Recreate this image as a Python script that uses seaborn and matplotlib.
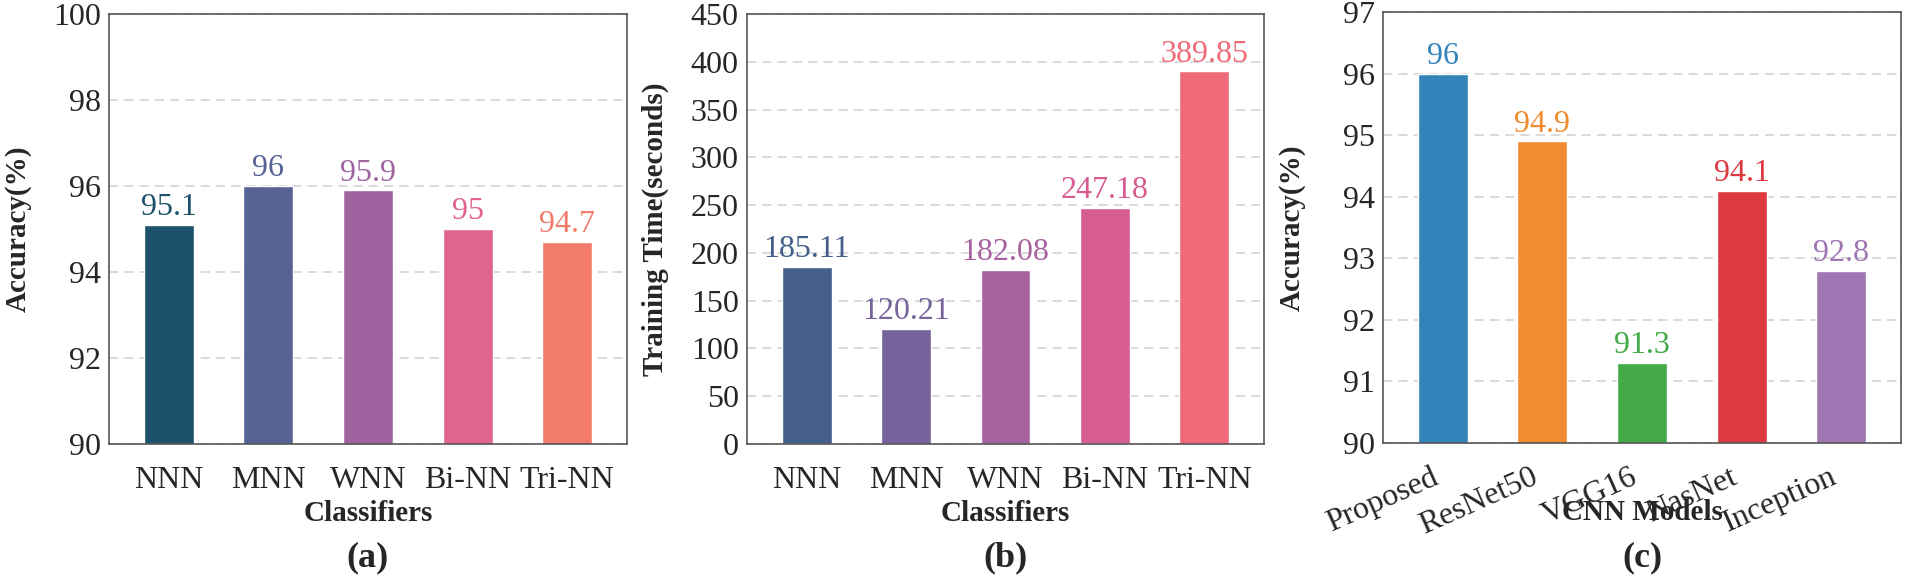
import pandas as pd
import matplotlib
matplotlib.use('Agg')
import matplotlib.pyplot as plt
import seaborn as sns

# data
classifiers = ['NNN', 'MNN', 'WNN', 'Bi-NN', 'Tri-NN']
acc_a = [95.1, 96, 95.9, 95, 94.7]
time_b = [185.11, 120.21, 182.08, 247.18, 389.85]
cnn_models = ['Proposed', 'ResNet50', 'VGG16', 'NasNet', 'Inception']
acc_c = [96, 94.9, 91.3, 94.1, 92.8]

colors_a = ['#1e526c', '#576395', '#9f64a0', '#e0648c', '#f27b6a']
colors_b = ['#435f8a', '#76639b', '#a862a0', '#d65c91', '#ee6a78']
colors_c = ['#3483bb', '#f38b30', '#44aa48', '#dc3a40', '#9d76b2']

sns.set_style('white')
plt.rcParams['font.family'] = ['Liberation Serif', 'DejaVu Serif']

fig = plt.figure(figsize=(19.05, 5.8), dpi=100)
W, H = 1905, 580


def make_ax(left, right, top, bottom):
    return fig.add_axes([left / W, 1 - bottom / H, (right - left) / W, (bottom - top) / H])


def draw(ax, cats, vals, cols, ylim, yticks, ylabel, xlabel, tag, rot=0):
    df = pd.DataFrame({'cat': cats, 'val': vals})
    sns.barplot(data=df, x='cat', y='val', hue='cat', palette=cols, legend=False,
                width=0.5, saturation=1, ax=ax, zorder=2)
    ax.set_xlim(-0.6, len(cats) - 0.4)
    ax.set_ylim(*ylim)
    ax.set_yticks(yticks)
    ax.yaxis.grid(True, linestyle=(0, (6, 4)), color='#d0d0d0', linewidth=1.1, zorder=0)
    ax.set_axisbelow(True)
    for c, col in zip(ax.containers, cols):
        for t in ax.bar_label(c, fmt='{:g}', padding=2, fontsize=23):
            t.set_color(col)
    ax.tick_params(axis='both', length=0, labelsize=23)
    ax.tick_params(axis='y', pad=6)
    if rot:
        ax.tick_params(axis='x', pad=14)
        for lab in ax.get_xticklabels():
            lab.set_rotation(rot)
            lab.set_ha('right')
    else:
        ax.tick_params(axis='x', pad=16)
    for s in ax.spines.values():
        s.set_color('#555555')
        s.set_linewidth(1.2)
    ax.set_ylabel(ylabel, fontsize=21, fontweight='bold')
    ax.set_xlabel(xlabel, fontsize=21, fontweight='bold')
    ax.yaxis.set_label_coords(-0.15, 0.5)
    ax.xaxis.set_label_coords(0.5, -0.13)
    pos = ax.get_position()
    fig.text(pos.x0 + pos.width / 2, 1 - 558 / H, tag, ha='center', va='center',
             fontsize=26, fontweight='bold')


ax_a = make_ax(109, 627, 14, 444)
draw(ax_a, classifiers, acc_a, colors_a, (90, 100), [90, 92, 94, 96, 98, 100],
     'Accuracy(%)', 'Classifiers', '(a)')

ax_b = make_ax(747, 1264, 14, 444)
draw(ax_b, classifiers, time_b, colors_b, (0, 450), list(range(0, 451, 50)),
     'Training Time(seconds)', 'Classifiers', '(b)')

ax_c = make_ax(1383, 1901, 12, 443)
draw(ax_c, cnn_models, acc_c, colors_c, (90, 97), list(range(90, 98)),
     'Accuracy(%)', 'CNN Models', '(c)', rot=24)

fig.savefig('out.png', dpi=100)
